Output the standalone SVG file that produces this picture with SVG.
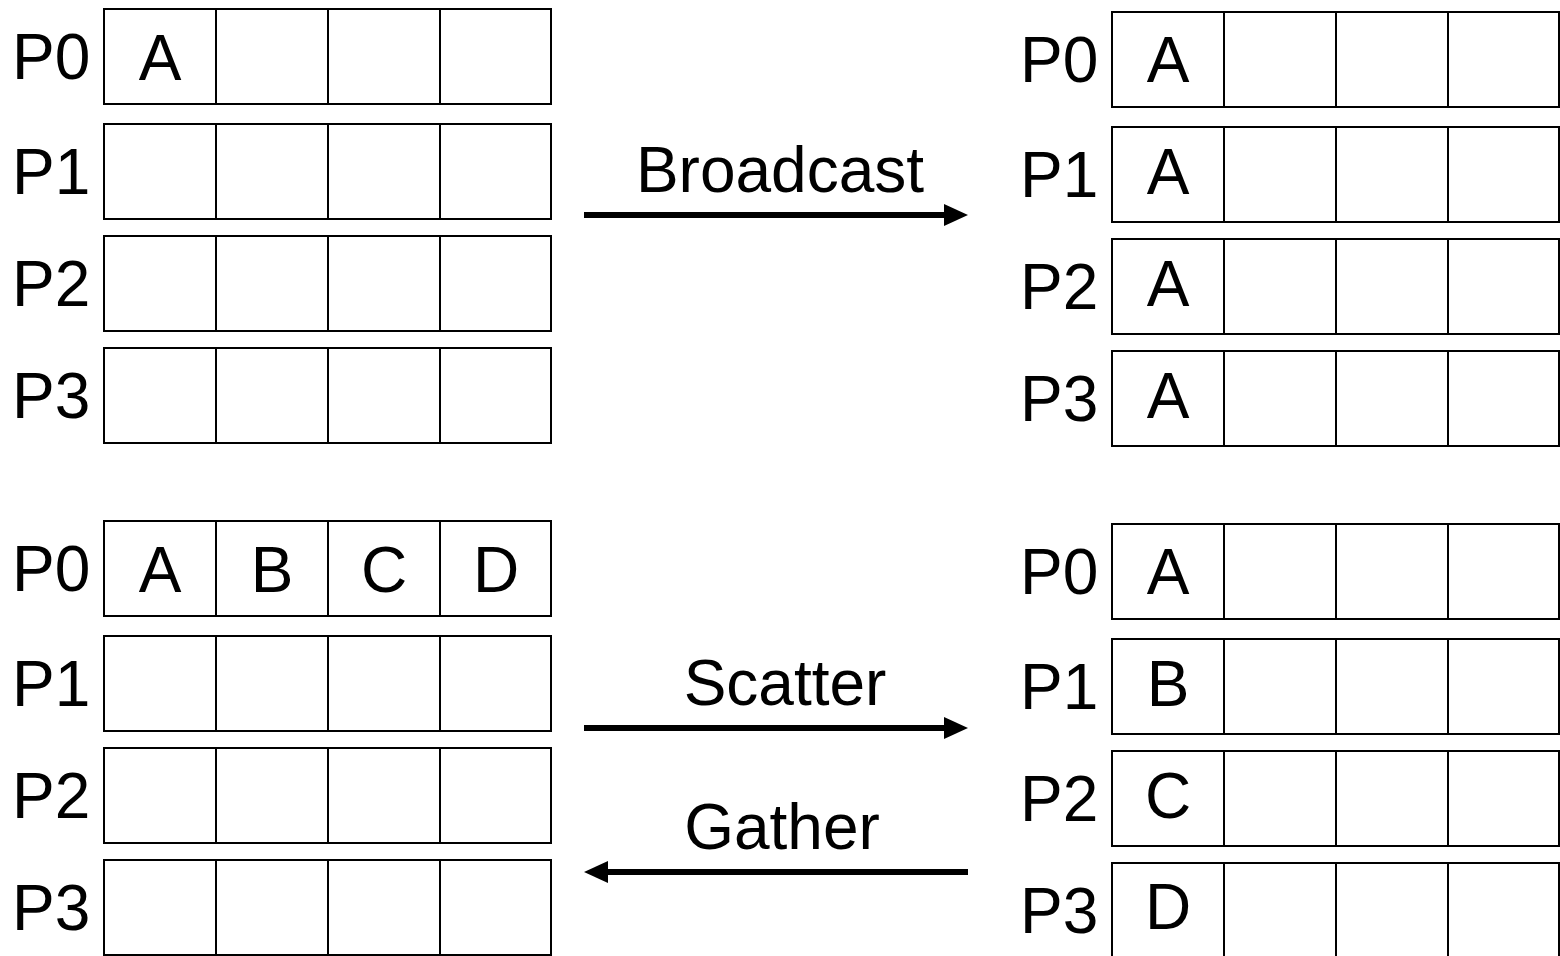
<svg xmlns="http://www.w3.org/2000/svg" width="1560" height="956" viewBox="0 0 1560 956">
  <style>
    .cell { fill: #ffffff; stroke: #000000; stroke-width: 2; }
    .lbl { font-family: "Liberation Sans", Arial, sans-serif; font-size: 64px; fill: #000000; }
    .val { font-family: "Liberation Sans", Arial, sans-serif; font-size: 64px; fill: #000000; text-anchor: middle; }
    .op { font-family: "Liberation Sans", Arial, sans-serif; font-size: 64px; fill: #000000; text-anchor: middle; }
    .arrow { stroke: #000000; stroke-width: 6; fill: none; marker-end: url(#head); }
  </style>
  <defs>
    <marker id="head" viewBox="0 0 24 24" markerWidth="24" markerHeight="24" refX="0" refY="12" orient="auto" markerUnits="userSpaceOnUse">
      <path d="M0,1 L24,12 L0,23 z" fill="#000000"/>
    </marker>
    <!-- one process row: four buffer slots, 112 wide, 95 tall -->
    <g id="row">
      <rect class="cell" x="0" y="0" width="112" height="95"/>
      <rect class="cell" x="112" y="0" width="112" height="95"/>
      <rect class="cell" x="224" y="0" width="112" height="95"/>
      <rect class="cell" x="336" y="0" width="111" height="95"/>
    </g>
  </defs>
  <rect x="0" y="0" width="1560" height="956" fill="#ffffff"/>

  <!-- Broadcast: before -->
  <g id="bcast-before">
    <use href="#row" x="104" y="9"/>
    <use href="#row" x="104" y="124"/>
    <use href="#row" x="104" y="236"/>
    <use href="#row" x="104" y="348"/>
    <text class="lbl" x="12" y="79">P0</text>
    <text class="lbl" x="12" y="194">P1</text>
    <text class="lbl" x="12" y="306">P2</text>
    <text class="lbl" x="12" y="418">P3</text>
    <text class="val" x="160" y="80">A</text>
  </g>

  <!-- Broadcast: after -->
  <g id="bcast-after">
    <use href="#row" x="1112" y="12"/>
    <use href="#row" x="1112" y="127"/>
    <use href="#row" x="1112" y="239"/>
    <use href="#row" x="1112" y="351"/>
    <text class="lbl" x="1020" y="82">P0</text>
    <text class="lbl" x="1020" y="197">P1</text>
    <text class="lbl" x="1020" y="309">P2</text>
    <text class="lbl" x="1020" y="421">P3</text>
    <text class="val" x="1168" y="82">A</text>
    <text class="val" x="1168" y="194">A</text>
    <text class="val" x="1168" y="306">A</text>
    <text class="val" x="1168" y="418">A</text>
  </g>

  <!-- Scatter source / Gather result -->
  <g id="scatter-before">
    <use href="#row" x="104" y="521"/>
    <use href="#row" x="104" y="636"/>
    <use href="#row" x="104" y="748"/>
    <use href="#row" x="104" y="860"/>
    <text class="lbl" x="12" y="591">P0</text>
    <text class="lbl" x="12" y="706">P1</text>
    <text class="lbl" x="12" y="818">P2</text>
    <text class="lbl" x="12" y="930">P3</text>
    <text class="val" x="160" y="592">A</text>
    <text class="val" x="272" y="592">B</text>
    <text class="val" x="384" y="592">C</text>
    <text class="val" x="496" y="592">D</text>
  </g>

  <!-- Scatter result / Gather source -->
  <g id="scatter-after">
    <use href="#row" x="1112" y="524"/>
    <use href="#row" x="1112" y="639"/>
    <use href="#row" x="1112" y="751"/>
    <use href="#row" x="1112" y="863"/>
    <text class="lbl" x="1020" y="594">P0</text>
    <text class="lbl" x="1020" y="709">P1</text>
    <text class="lbl" x="1020" y="821">P2</text>
    <text class="lbl" x="1020" y="933">P3</text>
    <text class="val" x="1168" y="594">A</text>
    <text class="val" x="1168" y="706">B</text>
    <text class="val" x="1168" y="818">C</text>
    <text class="val" x="1168" y="929">D</text>
  </g>

  <!-- operations -->
  <g id="connectors">
    <text class="op" x="780" y="192">Broadcast</text>
    <line class="arrow" x1="584" y1="215" x2="944" y2="215"/>
    <text class="op" x="785" y="705">Scatter</text>
    <line class="arrow" x1="584" y1="728" x2="944" y2="728"/>
    <text class="op" x="782" y="849">Gather</text>
    <line class="arrow" x1="968" y1="872" x2="608" y2="872"/>
  </g>
</svg>
